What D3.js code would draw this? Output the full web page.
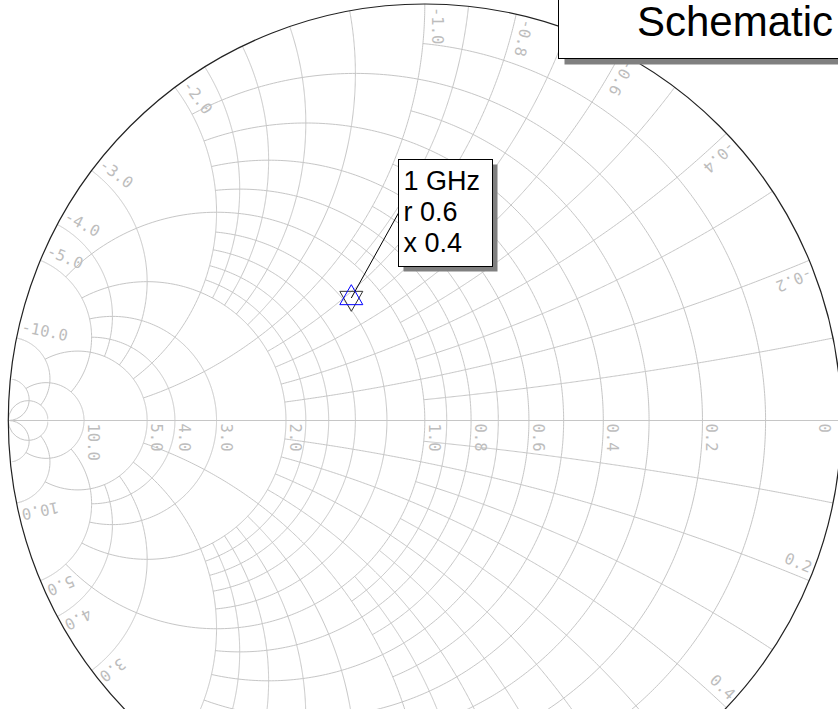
<!DOCTYPE html>
<html>
<head>
<meta charset="utf-8">
<script src="https://cdn.jsdelivr.net/npm/d3@7"></script>
<style>
  html, body { margin: 0; padding: 0; background: #ffffff; overflow: hidden; }
  svg { display: block; }
</style>
</head>
<body>
<svg id="chart" width="838" height="709"></svg>
<script>
// Admittance (Y) Smith chart grid with one marked impedance point.

// Constant-conductance circles and how far (|b|) each one is drawn.
const gridG      = [0.1, 0.2, 0.3, 0.4, 0.5, 0.6, 0.7, 0.8, 0.9, 1.0, 1.2, 1.4, 1.6, 1.8, 2.0, 3.0, 4.0, 5.0, 10.0, 20.0];
const gridGLimit = [1,   2,   1,   2,   1,   2,   1,   2,   1,   5,   2,   2,   2,   2,   5,   5,   5,   10,  20,   Infinity];

// Constant-susceptance arcs and how far (g) each one is drawn.
const gridB      = [0.1, 0.2, 0.3, 0.4, 0.5, 0.6, 0.7, 0.8, 0.9, 1.0, 1.2, 1.4, 1.6, 1.8, 2.0, 3.0, 4.0, 5.0, 10.0, 20.0];
const gridBLimit = [1,   2,   1,   2,   1,   2,   1,   2,   1,   5,   2,   2,   2,   2,   5,   5,   5,   10,  20,   Infinity];

// Labels along the real axis and around the rim.
const axisLabels = [0, 0.2, 0.4, 0.6, 0.8, 1.0, 2.0, 3.0, 4.0, 5.0, 10.0];
const rimLabels  = [0.2, 0.4, 0.6, 0.8, 1.0, 2.0, 3.0, 4.0, 5.0, 10.0];

// Marker: normalised impedance at one frequency.
const markerFreq = ["1 GHz"];
const markerR    = [0.6];
const markerX    = [0.4];

const titleText = "Schematic";

// ---- layout ----
const W = 838, H = 709;
const cx = 424.8, cy = 420.5, R = 416.5;
const gridColor = "#c6c6c6";
const labelColor = "#bdbdbd";

const svg = d3.select("#chart");
const sx = d3.scaleLinear().domain([-1, 1]).range([cx - R, cx + R]);
const sy = d3.scaleLinear().domain([-1, 1]).range([cy + R, cy - R]);

// reflection coefficient of a normalised admittance g + jb, shown as (1 - y)/(1 + y)
function gammaY(g, b) {
  const D = (1 + g) * (1 + g) + b * b;
  return [(1 - g * g - b * b) / D, -2 * b / D];
}

const line = d3.line().x(d => sx(d[0])).y(d => sy(d[1])).curve(d3.curveLinear);
const gridLayer = svg.append("g").attr("fill", "none").attr("stroke", gridColor).attr("stroke-width", 1);

// conductance circles
gridG.forEach((g, i) => {
  const lim = gridGLimit[i];
  const tMax = isFinite(lim) ? Math.atan(lim) : Math.PI / 2 - 1e-6;
  const pts = d3.range(0, 401).map(k => {
    const t = -tMax + (2 * tMax) * k / 400;
    return gammaY(g, Math.tan(t));
  });
  gridLayer.append("path").attr("d", line(pts));
});

// susceptance arcs, both signs
gridB.forEach((b, i) => {
  const lim = gridBLimit[i];
  const tMax = isFinite(lim) ? Math.atan(lim) : Math.PI / 2 - 1e-6;
  [1, -1].forEach(s => {
    const pts = d3.range(0, 301).map(k => {
      const t = tMax * k / 300;
      return gammaY(Math.tan(t), s * b);
    });
    gridLayer.append("path").attr("d", line(pts));
  });
});

// real axis
gridLayer.append("line")
  .attr("x1", sx(-1)).attr("y1", sy(0))
  .attr("x2", sx(1)).attr("y2", sy(0));

// outer rim
svg.append("circle")
  .attr("cx", sx(0)).attr("cy", sy(0)).attr("r", sx(1) - sx(0))
  .attr("fill", "none").attr("stroke", "#222").attr("stroke-width", 1.2);

// ---- labels ----
const labelFont = "'DejaVu Sans Mono', 'Liberation Mono', monospace";
const labels = svg.append("g")
  .attr("fill", labelColor)
  .attr("font-family", labelFont)
  .attr("font-size", 15.5);

axisLabels.forEach(g => {
  const p = gammaY(g, 0);
  const px = sx(p[0]), py = sy(p[1]);
  const inside = g === 0;
  labels.append("text")
    .attr("transform", `translate(${px},${py}) rotate(90)`)
    .attr("x", 3)
    .attr("y", inside ? 22 : -4)
    .text(g === 0 ? "0" : g.toFixed(1));
});

rimLabels.forEach(v => {
  [-1, 1].forEach(s => {
    const b = s * v;
    const p = gammaY(0, b);
    const px = sx(p[0]), py = sy(p[1]);
    // rim points below the visible area carry no visible label
    if (py > H) return;
    const ux = (sx(0) - px), uy = (sy(0) - py);
    let ang, anchor, x;
    if (b < 0) {
      ang = Math.atan2(uy, ux) * 180 / Math.PI;
      anchor = "start"; x = 3;
    } else {
      ang = Math.atan2(-uy, -ux) * 180 / Math.PI;
      anchor = "end"; x = -3;
    }
    labels.append("text")
      .attr("transform", `translate(${px},${py}) rotate(${ang})`)
      .attr("x", x).attr("y", -7)
      .attr("text-anchor", anchor)
      .text((b < 0 ? "-" : "") + v.toFixed(1));
  });
});

// ---- marker ----
const mz = gammaY(markerR[0], markerX[0]);      // admittance form of the same value
const mg = [-mz[0], -mz[1]];                    // impedance reflection coefficient
const mx = sx(mg[0]), my = sy(mg[1]);

// annotation box
const boxX = 398.5, boxY = 159.5, boxW = 94, boxH = 107;
svg.append("line")
  .attr("x1", mx).attr("y1", my)
  .attr("x2", boxX).attr("y2", boxY + boxH / 2)
  .attr("stroke", "#000").attr("stroke-width", 1);

const h = 20, hw = 11.5;
svg.append("path")
  .attr("d", `M${mx - hw},${my - h / 3}L${mx + hw},${my - h / 3}L${mx},${my + 2 * h / 3}Z`)
  .attr("fill", "none").attr("stroke", "#333").attr("stroke-width", 1);
svg.append("path")
  .attr("d", `M${mx - hw},${my + h / 3}L${mx + hw},${my + h / 3}L${mx},${my - 2 * h / 3}Z`)
  .attr("fill", "none").attr("stroke", "#0000ff").attr("stroke-width", 1);

svg.append("rect")
  .attr("x", boxX + 5).attr("y", boxY + 5).attr("width", boxW).attr("height", boxH)
  .attr("fill", "#808080");
svg.append("rect")
  .attr("x", boxX).attr("y", boxY).attr("width", boxW).attr("height", boxH)
  .attr("fill", "#fff").attr("stroke", "#000").attr("stroke-width", 1);

const boxLines = [markerFreq[0], "r " + markerR[0], "x " + markerX[0]];
svg.append("g")
  .attr("font-family", "'Liberation Sans', Arial, sans-serif")
  .attr("font-size", 27)
  .attr("fill", "#000")
  .selectAll("text").data(boxLines).join("text")
  .attr("x", boxX + 5)
  .attr("y", (d, i) => boxY + 30 + i * 31)
  .text(d => d);

// title box
const tX = 558.5, tY = -10, tW = 300, tH = 68.5;
svg.append("rect")
  .attr("x", tX + 6).attr("y", tY + 6).attr("width", tW).attr("height", tH)
  .attr("fill", "#808080");
svg.append("rect")
  .attr("x", tX).attr("y", tY).attr("width", tW).attr("height", tH)
  .attr("fill", "#fff").attr("stroke", "#000").attr("stroke-width", 1);
svg.append("text")
  .attr("x", 637).attr("y", 36)
  .attr("font-family", "'Liberation Sans', Arial, sans-serif")
  .attr("font-size", 42)
  .attr("fill", "#000")
  .text(titleText);
</script>
</body>
</html>
